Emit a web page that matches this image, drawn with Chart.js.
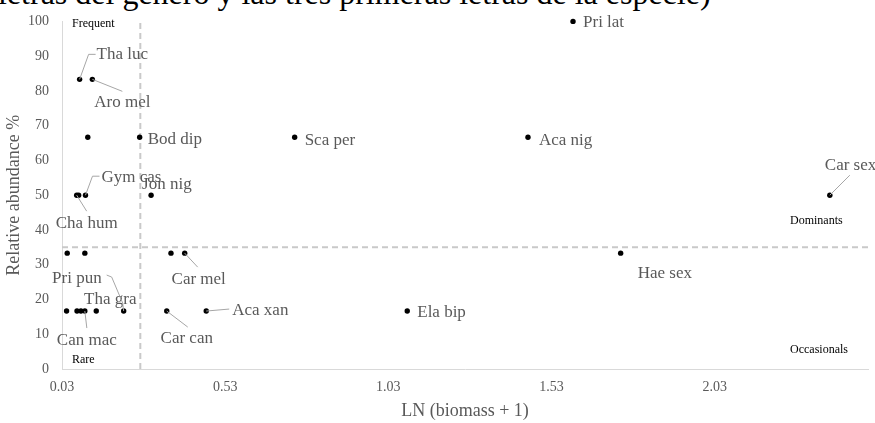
<!DOCTYPE html>
<html>
<head>
<meta charset="utf-8">
<script src="https://cdn.jsdelivr.net/npm/chart.js@4.4.0/dist/chart.umd.min.js"></script>
<style>
  html, body { margin: 0; padding: 0; background: #fff; overflow: hidden; }
  #wrap { position: relative; width: 875px; height: 423px; }
  #chart { position: absolute; left: 0; top: 0; }
  #topText {
    position: absolute; left: -2px; top: -23px;
    font-family: 'Liberation Serif', serif; font-size: 32px; line-height: 32px;
    color: #000; white-space: nowrap;
  }
</style>
</head>
<body>
<div id="wrap">
  <div id="topText">letras del género y las tres primeras letras de la especie)</div>
  <canvas id="chart" width="875" height="423"></canvas>
</div>
<script>
// 種名（ラベルなしは空文字）
const species = [
  'Tha luc', 'Aro mel', '', 'Bod dip', 'Sca per', 'Aca nig', 'Pri lat', 'Car sex',
  'Hae sex', 'Ela bip', 'Cha hum', '', 'Gym cas', 'Jon nig', '', '', '', 'Car mel',
  '', '', '', 'Can mac', 'Tha gra', 'Pri pun', 'Car can', 'Aca xan'
];
// LN (biomass + 1)
const biomass = [
  0.084, 0.123, 0.109, 0.268, 0.743, 1.458, 1.596, 2.383,
  1.742, 1.088, 0.075, 0.081, 0.102, 0.303, 0.046, 0.100, 0.364, 0.406,
  0.044, 0.076, 0.088, 0.100, 0.135, 0.219, 0.351, 0.472
];
// Relative abundance %
const abundance = [
  83.33, 83.33, 66.67, 66.67, 66.67, 66.67, 100, 50,
  33.33, 16.67, 50, 50, 50, 50, 33.33, 33.33, 33.33, 33.33,
  16.67, 16.67, 16.67, 16.67, 16.67, 16.67, 16.67, 16.67
];
// 区分線
const biomassCut = 0.27;
const abundanceCut = 35;
const xTicks = [0.03, 0.53, 1.03, 1.53, 2.03];
const xMin = 0.03;
const xMax = 2.5;
const quadrants = ['Frequent', 'Rare', 'Dominants', 'Occasionals'];

// ラベル配置（点からのオフセット、px）
const labelLayout = {
  'Tha luc': { dx: 17, dy: -25, align: 'left', leader: [[9, -25], [16, -25]] },
  'Aro mel': { dx: 30, dy: 23, align: 'center', leader: [[30, 12]] },
  'Bod dip': { dx: 8, dy: 2, align: 'left' },
  'Sca per': { dx: 10, dy: 3, align: 'left' },
  'Aca nig': { dx: 11, dy: 3, align: 'left' },
  'Pri lat': { dx: 10, dy: 1, align: 'left' },
  'Car sex': { dx: -5, dy: -30, align: 'left', leader: [[20, -20]] },
  'Hae sex': { dx: 17, dy: 20, align: 'left' },
  'Ela bip': { dx: 10, dy: 1, align: 'left' },
  'Cha hum': { dx: 10, dy: 28, align: 'center', leader: [[10, 16]] },
  'Gym cas': { dx: 16, dy: -18, align: 'left', leader: [[7, -19], [14, -19]] },
  'Jon nig': { dx: -9, dy: -11, align: 'left' },
  'Car mel': { dx: 14, dy: 26, align: 'center', leader: [[13, 14]] },
  'Can mac': { dx: 2, dy: 29, align: 'center', leader: [[2, 17]] },
  'Tha gra': { dx: 14, dy: -12, align: 'center' },
  'Pri pun': { dx: -22, dy: -33, align: 'right', leader: [[-1, -8], [-12, -34], [-17, -36]] },
  'Car can': { dx: 20, dy: 27, align: 'center', leader: [[21, 16]] },
  'Aca xan': { dx: 26, dy: -1, align: 'left', leader: [[23, -2]] }
};

const serif = "'Liberation Serif', 'Times New Roman', serif";
const grayText = '#595959';

// 点ラベル描画
const pointLabels = {
  id: 'pointLabels',
  afterDatasetsDraw(chart) {
    const ctx = chart.ctx;
    const meta = chart.getDatasetMeta(0);
    ctx.save();
    ctx.font = '17px ' + serif;
    ctx.textBaseline = 'middle';
    species.forEach((name, i) => {
      if (!name) return;
      const lay = labelLayout[name];
      const pt = meta.data[i];
      if (lay.leader) {
        ctx.strokeStyle = '#a6a6a6';
        ctx.lineWidth = 1;
        ctx.beginPath();
        ctx.moveTo(pt.x, pt.y);
        lay.leader.forEach(p => ctx.lineTo(pt.x + p[0], pt.y + p[1]));
        ctx.stroke();
      }
      ctx.fillStyle = grayText;
      ctx.textAlign = lay.align;
      ctx.fillText(name, pt.x + lay.dx, pt.y + lay.dy);
    });
    ctx.restore();
  }
};

// 象限ラベル描画
const quadrantLabels = {
  id: 'quadrantLabels',
  afterDatasetsDraw(chart) {
    const { ctx, chartArea } = chart;
    const yCut = chart.scales.y.getPixelForValue(abundanceCut);
    ctx.save();
    ctx.font = '12px ' + serif;
    ctx.fillStyle = '#000';
    ctx.textAlign = 'left';
    ctx.textBaseline = 'middle';
    ctx.fillText(quadrants[0], chartArea.left + 10, chartArea.top + 2);
    ctx.fillText(quadrants[1], chartArea.left + 10, chartArea.bottom - 9);
    ctx.fillText(quadrants[2], chartArea.right - 78, yCut - 26);
    ctx.fillText(quadrants[3], chartArea.right - 78, chartArea.bottom - 19);
    ctx.restore();
  }
};

const points = biomass.map((x, i) => ({ x, y: abundance[i] }));

new Chart(document.getElementById('chart').getContext('2d'), {
  type: 'scatter',
  data: {
    datasets: [
      {
        data: points,
        backgroundColor: '#000',
        borderWidth: 0,
        pointRadius: 2.7,
        clip: false,
        order: 1
      },
      {
        type: 'line',
        data: [{ x: biomassCut, y: 0 }, { x: biomassCut, y: 100 }],
        borderColor: '#c9c9c9',
        borderWidth: 2,
        borderDash: [6, 4],
        pointRadius: 0,
        clip: false,
        order: 2
      },
      {
        type: 'line',
        data: [{ x: xMin, y: abundanceCut }, { x: xMax, y: abundanceCut }],
        borderColor: '#c9c9c9',
        borderWidth: 2,
        borderDash: [6, 4],
        pointRadius: 0,
        order: 2
      }
    ]
  },
  options: {
    responsive: false,
    animation: false,
    layout: { padding: { top: 15, right: 7, left: 0, bottom: 0 } },
    plugins: {
      legend: { display: false },
      tooltip: { enabled: false }
    },
    scales: {
      x: {
        type: 'linear',
        min: xMin,
        max: xMax,
        afterBuildTicks: scale => { scale.ticks = xTicks.map(v => ({ value: v })); },
        afterFit: scale => { scale.height = 54; },
        grid: { drawOnChartArea: false, drawTicks: false },
        border: { color: '#d9d9d9', width: 1 },
        ticks: {
          padding: 10,
          color: grayText,
          font: { family: serif, size: 14 },
          callback: v => v.toFixed(2)
        },
        title: {
          display: true,
          text: 'LN (biomass + 1)',
          color: grayText,
          font: { family: serif, size: 18 },
          padding: { top: 0, bottom: 1 }
        }
      },
      y: {
        min: 0,
        max: 100,
        afterFit: scale => { scale.width = 62; },
        grid: { drawOnChartArea: false, drawTicks: false },
        border: { color: '#d9d9d9', width: 1 },
        ticks: {
          stepSize: 10,
          padding: 13,
          color: grayText,
          font: { family: serif, size: 14 }
        },
        title: {
          display: true,
          text: 'Relative abundance %',
          color: grayText,
          font: { family: serif, size: 18 },
          padding: { top: 3, bottom: 4 }
        }
      }
    }
  },
  plugins: [pointLabels, quadrantLabels]
});
</script>
</body>
</html>
